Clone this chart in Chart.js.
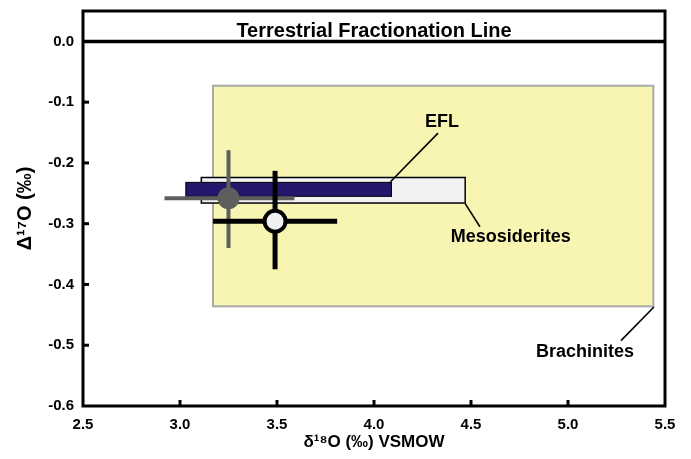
<!DOCTYPE html>
<html>
<head>
<meta charset="utf-8">
<script src="https://cdn.jsdelivr.net/npm/chart.js@4.4.1/dist/chart.umd.min.js"></script>
<style>
  html, body { margin: 0; padding: 0; background: #fff; }
</style>
</head>
<body>
<canvas id="oxygen" width="691" height="459"></canvas>
<script>
// axis ticks
var xTicks = [2.5, 3.0, 3.5, 4.0, 4.5, 5.0, 5.5];
var xTickLabels = ['2.5', '3.0', '3.5', '4.0', '4.5', '5.0', '5.5'];
var yTicks = [-0.6, -0.5, -0.4, -0.3, -0.2, -0.1, 0.0];
var yTickLabels = ['-0.6', '-0.5', '-0.4', '-0.3', '-0.2', '-0.1', '0.0'];

// fields (ranges)
var fieldNames = ['Brachinites', 'Mesosiderites', 'EFL'];
var fieldXMin = [3.17, 3.11, 3.03];
var fieldXMax = [5.44, 4.47, 4.09];
var fieldYMin = [-0.436, -0.266, -0.255];
var fieldYMax = [-0.073, -0.224, -0.232];

// two samples with error bars
var sampleNames = ['grey', 'open'];
var sampleX = [3.25, 3.49];
var sampleY = [-0.258, -0.296];
var sampleXLo = [2.92, 3.17];
var sampleXHi = [3.59, 3.81];
var sampleYLo = [-0.340, -0.375];
var sampleYHi = [-0.179, -0.213];

// terrestrial fractionation line
var tflX = [2.5, 5.5];
var tflY = [0.0, 0.0];

var FONT = '"Liberation Sans", Arial, Helvetica, sans-serif';

var fieldStyle = {
    'Brachinites':   { fill: '#f8f5b3', line: '#a9a9a9', width: 2 },
    'Mesosiderites': { fill: '#f2f2f2', line: '#000000', width: 1.5 },
    'EFL':           { fill: '#25176b', line: '#000000', width: 1 }
};

var sampleStyle = {
    'grey': { bar: '#5e5e5e', barWidth: 4, fill: '#5e5e5e', edge: '#5e5e5e', edgeWidth: 0, radius: 11 },
    'open': { bar: '#000000', barWidth: 5, fill: '#f0f0f0', edge: '#000000', edgeWidth: 4, radius: 10.5 }
};

// label text, where it sits and the point its leader line touches (data units)
var callouts = [
    { text: 'EFL',           at: [4.35, -0.133], from: [4.33, -0.151], to: [4.085, -0.231] },
    { text: 'Mesosiderites', at: [4.705, -0.322], from: [4.546, -0.305], to: [4.47, -0.267] },
    { text: 'Brachinites',   at: [5.088, -0.511], from: [5.273, -0.4925], to: [5.443, -0.437] }
];

var datasets = [];
datasets.push({
    label: 'Terrestrial Fractionation Line',
    data: tflX.map(function (x, i) { return { x: x, y: tflY[i] }; }),
    showLine: true, borderColor: '#000', borderWidth: 3.5, pointRadius: 0,
    order: 10, clip: false
});
sampleNames.forEach(function (name, i) {
    var s = sampleStyle[name];
    var base = 8 - i * 3;
    datasets.push({
        label: name + ' x error',
        data: [{ x: sampleXLo[i], y: sampleY[i] }, { x: sampleXHi[i], y: sampleY[i] }],
        showLine: true, borderColor: s.bar, borderWidth: s.barWidth, pointRadius: 0,
        order: base
    });
    datasets.push({
        label: name + ' y error',
        data: [{ x: sampleX[i], y: sampleYLo[i] }, { x: sampleX[i], y: sampleYHi[i] }],
        showLine: true, borderColor: s.bar, borderWidth: s.barWidth, pointRadius: 0,
        order: base - 1
    });
    datasets.push({
        label: name,
        data: [{ x: sampleX[i], y: sampleY[i] }],
        pointRadius: s.radius, pointHoverRadius: s.radius,
        backgroundColor: s.fill, borderColor: s.edge, borderWidth: s.edgeWidth,
        order: base - 2
    });
});

var decor = {
    id: 'decor',
    beforeDatasetsDraw: function (chart) {
        var ctx = chart.ctx, x = chart.scales.x, y = chart.scales.y;
        ctx.save();
        fieldNames.forEach(function (name, i) {
            var st = fieldStyle[name];
            var l = x.getPixelForValue(fieldXMin[i]), r = x.getPixelForValue(fieldXMax[i]);
            var t = y.getPixelForValue(fieldYMax[i]), b = y.getPixelForValue(fieldYMin[i]);
            ctx.fillStyle = st.fill;
            ctx.fillRect(l, t, r - l, b - t);
            ctx.strokeStyle = st.line;
            ctx.lineWidth = st.width;
            ctx.strokeRect(l, t, r - l, b - t);
        });
        ctx.restore();
    },
    afterDatasetsDraw: function (chart) {
        var ctx = chart.ctx, a = chart.chartArea, x = chart.scales.x, y = chart.scales.y;
        ctx.save();
        // frame
        ctx.strokeStyle = '#000';
        ctx.lineWidth = 3;
        ctx.strokeRect(a.left, a.top, a.right - a.left, a.bottom - a.top);
        // inside tick marks
        ctx.fillStyle = '#000';
        yTicks.forEach(function (v) {
            if (v <= -0.6 || v >= 0) return;
            var py = y.getPixelForValue(v);
            ctx.fillRect(a.left, py - 1.5, 6, 3);
        });
        xTicks.forEach(function (v) {
            if (v <= 2.5 || v >= 5.5) return;
            var px = x.getPixelForValue(v);
            ctx.fillRect(px - 1.5, a.bottom - 6, 3, 6);
        });
        // title inside the box
        ctx.font = 'bold 20px ' + FONT;
        ctx.textAlign = 'center';
        ctx.textBaseline = 'alphabetic';
        ctx.fillText('Terrestrial Fractionation Line', (a.left + a.right) / 2, a.top + 26);
        // callouts
        ctx.lineWidth = 1.6;
        ctx.font = 'bold 18px ' + FONT;
        ctx.textBaseline = 'middle';
        callouts.forEach(function (c) {
            ctx.beginPath();
            ctx.moveTo(x.getPixelForValue(c.from[0]), y.getPixelForValue(c.from[1]));
            ctx.lineTo(x.getPixelForValue(c.to[0]), y.getPixelForValue(c.to[1]));
            ctx.stroke();
            ctx.fillText(c.text, x.getPixelForValue(c.at[0]), y.getPixelForValue(c.at[1]));
        });
        ctx.restore();
    }
};

var ctx = document.getElementById('oxygen').getContext('2d');
var chart = new Chart(ctx, {
    type: 'scatter',
    data: { datasets: datasets },
    plugins: [decor],
    options: {
        responsive: false,
        animation: false,
        events: [],
        devicePixelRatio: 1,
        layout: { autoPadding: false, padding: { top: 11, right: 26, left: 0, bottom: 0 } },
        plugins: { legend: { display: false }, tooltip: { enabled: false } },
        scales: {
            x: {
                type: 'linear', min: 2.5, max: 5.5,
                afterFit: function (s) { s.height = 53; s.paddingLeft = 0; s.paddingRight = 0; },
                afterBuildTicks: function (s) { s.ticks = xTicks.map(function (v) { return { value: v }; }); },
                grid: { display: false, drawTicks: false },
                border: { display: false },
                ticks: {
                    padding: 10, color: '#000', maxRotation: 0,
                    font: { family: FONT, size: 15, weight: 'bold' },
                    callback: function (v) { return xTickLabels[xTicks.indexOf(v)]; }
                },
                title: {
                    display: true, text: 'δ¹⁸O (‰) VSMOW', color: '#000',
                    font: { family: FONT, size: 17, weight: 'bold' },
                    padding: { top: 0, bottom: 6 }
                }
            },
            y: {
                type: 'linear', min: -0.6, max: 0.05,
                afterFit: function (s) { s.width = 83; s.paddingTop = 0; s.paddingBottom = 0; },
                afterBuildTicks: function (s) { s.ticks = yTicks.map(function (v) { return { value: v }; }); },
                grid: { display: false, drawTicks: false },
                border: { display: false },
                ticks: {
                    padding: 9, color: '#000',
                    font: { family: FONT, size: 15, weight: 'bold' },
                    callback: function (v) {
                        var k = yTicks.findIndex(function (t) { return Math.abs(t - v) < 1e-9; });
                        return k < 0 ? '' : yTickLabels[k];
                    }
                },
                title: {
                    display: true, text: 'Δ¹⁷O (‰)', color: '#000',
                    font: { family: FONT, size: 20, weight: 'bold' },
                    padding: { top: 13, bottom: 0 }
                }
            }
        }
    }
});
</script>
</body>
</html>
